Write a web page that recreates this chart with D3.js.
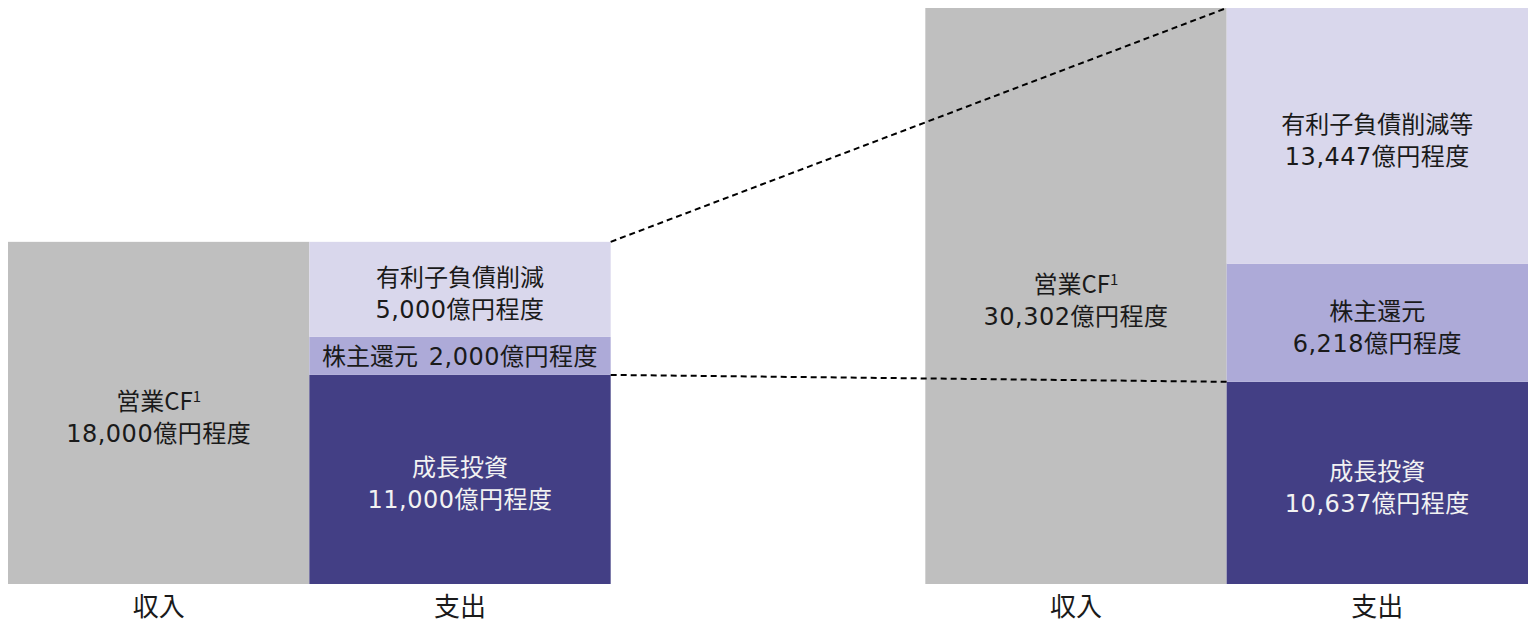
<!DOCTYPE html>
<html>
<head>
<meta charset="utf-8">
<script src="https://cdn.jsdelivr.net/npm/d3@7"></script>
<style>
  html, body { margin: 0; padding: 0; background: #ffffff; }
  svg { display: block; }
  text { font-family: "DejaVu Sans", "Noto Sans CJK JP", sans-serif; }
</style>
</head>
<body>
<svg id="chart" width="1528" height="622"></svg>
<script>
// ---- data ----
const groups = [0, 1];                       // two scenarios (left / right)
const categories = ["収入", "支出"];
const incomeName = "営業CF";
const incomeValues = [18000, 30302];
const seriesNames = [
  ["成長投資", "株主還元", "有利子負債削減"],
  ["成長投資", "株主還元", "有利子負債削減等"]
];
const growthInvestment = [11000, 10637];
const shareholderReturn = [2000, 6218];
const debtReduction = [5000, 13447];
const unitSuffix = "億円程度";

// ---- style ----
const colors = { income: "#BFBFBF", growth: "#433F85", share: "#ADAAD8", debt: "#D9D7EC" };
const svg = d3.select("#chart");
const fmt = d3.format(",");

const xOuter = d3.scaleBand().domain(groups).range([8, 1528]).paddingInner(0.343).paddingOuter(0);
const xInner = d3.scaleBand().domain(categories).range([0, xOuter.bandwidth()]).padding(0);
const y = d3.scaleLinear().domain([0, d3.max(incomeValues)]).range([584, 8]);

const fontCJK = "'Noto Sans CJK JP', sans-serif";

function twoLineLabel(g, cx, cy, line1, line2, color, sup) {
  const t = g.append("text").attr("text-anchor", "middle").attr("fill", color).attr("font-size", 24);
  const a = t.append("tspan").attr("x", cx).attr("y", cy - 3);
  a.append("tspan").attr("font-family", fontCJK).text(line1);
  if (sup) {
    a.append("tspan").attr("font-family", fontCJK).attr("font-size", 15).attr("dy", -8).text(sup);
  }
  t.append("tspan").attr("x", cx).attr("y", cy + 29).attr("letter-spacing", 0.5).text(line2);
}

groups.forEach(gi => {
  const g = svg.append("g").attr("transform", `translate(${xOuter(gi)},0)`);
  const bw = xInner.bandwidth();

  // income bar
  const xi = xInner("収入");
  g.append("rect").attr("x", xi).attr("y", y(incomeValues[gi]))
    .attr("width", bw).attr("height", y(0) - y(incomeValues[gi])).attr("fill", colors.income);
  twoLineLabel(g, xi + bw / 2, (y(incomeValues[gi]) + y(0)) / 2,
    incomeName, fmt(incomeValues[gi]) + unitSuffix, "#1a1a1a", "1");

  // expense stack
  const xe = xInner("支出");
  const stack = [
    { name: seriesNames[gi][0], v: growthInvestment[gi], c: colors.growth, tc: "#f2f2f2" },
    { name: seriesNames[gi][1], v: shareholderReturn[gi], c: colors.share, tc: "#1a1a1a" },
    { name: seriesNames[gi][2], v: debtReduction[gi], c: colors.debt, tc: "#1a1a1a" }
  ];
  let acc = 0;
  stack.forEach(s => {
    s.y0 = acc; s.y1 = acc + s.v; acc = s.y1;
    g.append("rect").attr("x", xe).attr("y", y(s.y1))
      .attr("width", bw).attr("height", y(s.y0) - y(s.y1)).attr("fill", s.c);
    const cy = (y(s.y0) + y(s.y1)) / 2;
    const h = y(s.y0) - y(s.y1);
    if (h < 60) {
      const t = g.append("text").attr("text-anchor", "middle").attr("fill", s.tc)
        .attr("font-size", 24).attr("x", xe + bw / 2).attr("y", cy + 9);
      t.append("tspan").attr("font-family", fontCJK).text(s.name + "\u00A0\u00A0");
      t.append("tspan").attr("letter-spacing", 0.5).text(fmt(s.v) + unitSuffix);
    } else {
      twoLineLabel(g, xe + bw / 2, cy, s.name, fmt(s.v) + unitSuffix, s.tc, null);
    }
  });

  // category labels
  categories.forEach(c => {
    g.append("text").attr("text-anchor", "middle").attr("font-family", fontCJK)
      .attr("font-size", 26).attr("fill", "#1a1a1a")
      .attr("x", xInner(c) + bw / 2).attr("y", 616).text(c);
  });
});

// connector dashed lines
const leftRight = xOuter(0) + xOuter.bandwidth();
const rightStart = xOuter(1) + xInner("支出");
const totals = groups.map(gi => growthInvestment[gi] + shareholderReturn[gi] + debtReduction[gi]);
const lines = [
  [y(totals[0]), y(totals[1])],
  [y(growthInvestment[0]), y(growthInvestment[1])]
];
lines.forEach(([y1, y2]) => {
  svg.append("line").attr("x1", leftRight).attr("y1", y1).attr("x2", rightStart).attr("y2", y2)
    .attr("stroke", "#000").attr("stroke-width", 2).attr("stroke-dasharray", "6,4");
});
</script>
</body>
</html>
